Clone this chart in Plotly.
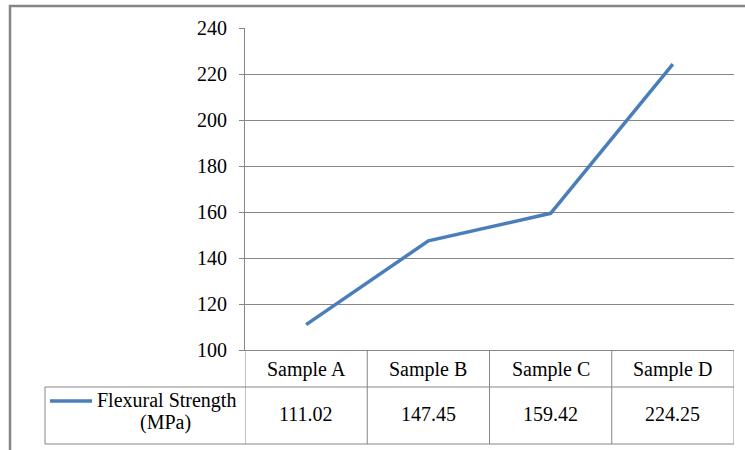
import plotly.graph_objects as go

categories = ["Sample A", "Sample B", "Sample C", "Sample D"]
values = [111.02, 147.45, 159.42, 224.25]
value_labels = ["111.02", "147.45", "159.42", "224.25"]
series_name = ["Flexural Strength", "(MPa)"]
y_ticks = [100, 120, 140, 160, 180, 200, 220, 240]

GRID = "#868686"
BLUE = "#4A7EBB"
FONT = "'Liberation Serif', 'Times New Roman', serif"
FS = 20

W, H = 745, 450
ML, MR, MT, MB = 245, 11, 28, 100
PW = W - ML - MR
PH = H - MT - MB

def px(x):
    return (x - ML) / PW

def py(y):
    return (H - MB - y) / PH

fig = go.Figure()
fig.add_trace(go.Scatter(x=categories, y=values, mode="lines",
                         line=dict(color=BLUE, width=3.5), showlegend=False,
                         cliponaxis=False))

shapes = []
shapes.append(dict(type="rect", xref="paper", yref="paper",
                   x0=px(10), x1=px(760), y0=py(470), y1=py(6),
                   line=dict(color=GRID, width=2.5), layer="below"))
n = len(categories)
for i in range(n + 1):
    b = i - 0.5
    shapes.append(dict(type="line", xref="x", yref="paper",
                       x0=b, x1=b, y0=py(444), y1=0,
                       line=dict(color=GRID, width=1)))
for yy in (387, 444):
    shapes.append(dict(type="line", xref="paper", yref="paper",
                       x0=px(45), x1=1, y0=py(yy), y1=py(yy),
                       line=dict(color=GRID, width=1)))
shapes.append(dict(type="line", xref="paper", yref="paper",
                   x0=px(45), x1=px(45), y0=py(444), y1=py(387),
                   line=dict(color=GRID, width=1)))
shapes.append(dict(type="line", xref="paper", yref="paper",
                   x0=px(50), x1=px(92), y0=py(401), y1=py(401),
                   line=dict(color=BLUE, width=3.5)))

annotations = []
for c, v in zip(categories, value_labels):
    annotations.append(dict(x=c, y=py(369), xref="x", yref="paper", text=c,
                            showarrow=False, xanchor="center", yanchor="middle",
                            font=dict(family=FONT, size=FS, color="black")))
    annotations.append(dict(x=c, y=py(414), xref="x", yref="paper", text=v,
                            showarrow=False, xanchor="center", yanchor="middle",
                            font=dict(family=FONT, size=FS, color="black")))
annotations.append(dict(x=px(166), y=py(400), xref="paper", yref="paper",
                        text=series_name[0], showarrow=False, xanchor="center",
                        yanchor="middle", font=dict(family=FONT, size=FS, color="black")))
annotations.append(dict(x=px(165), y=py(422), xref="paper", yref="paper",
                        text=series_name[1], showarrow=False, xanchor="center",
                        yanchor="middle", font=dict(family=FONT, size=FS, color="black")))

fig.update_layout(
    width=W, height=H,
    margin=dict(l=ML, r=MR, t=MT, b=MB),
    paper_bgcolor="white", plot_bgcolor="white",
    font=dict(family=FONT, size=FS, color="black"),
    shapes=shapes, annotations=annotations,
    xaxis=dict(type="category", categoryarray=categories, range=[-0.5, n - 0.5],
               showticklabels=False, showgrid=False, zeroline=False,
               showline=True, linecolor=GRID, linewidth=1, ticks=""),
    yaxis=dict(range=[100, 240], tickvals=y_ticks, showgrid=True, gridcolor=GRID,
               gridwidth=1, zeroline=False, showline=True, linecolor=GRID,
               linewidth=1, ticks="outside", ticklen=5, tickcolor=GRID,
               ticklabelstandoff=8,
               tickfont=dict(family=FONT, size=FS, color="black")),
)

fig.write_html("out.html")
